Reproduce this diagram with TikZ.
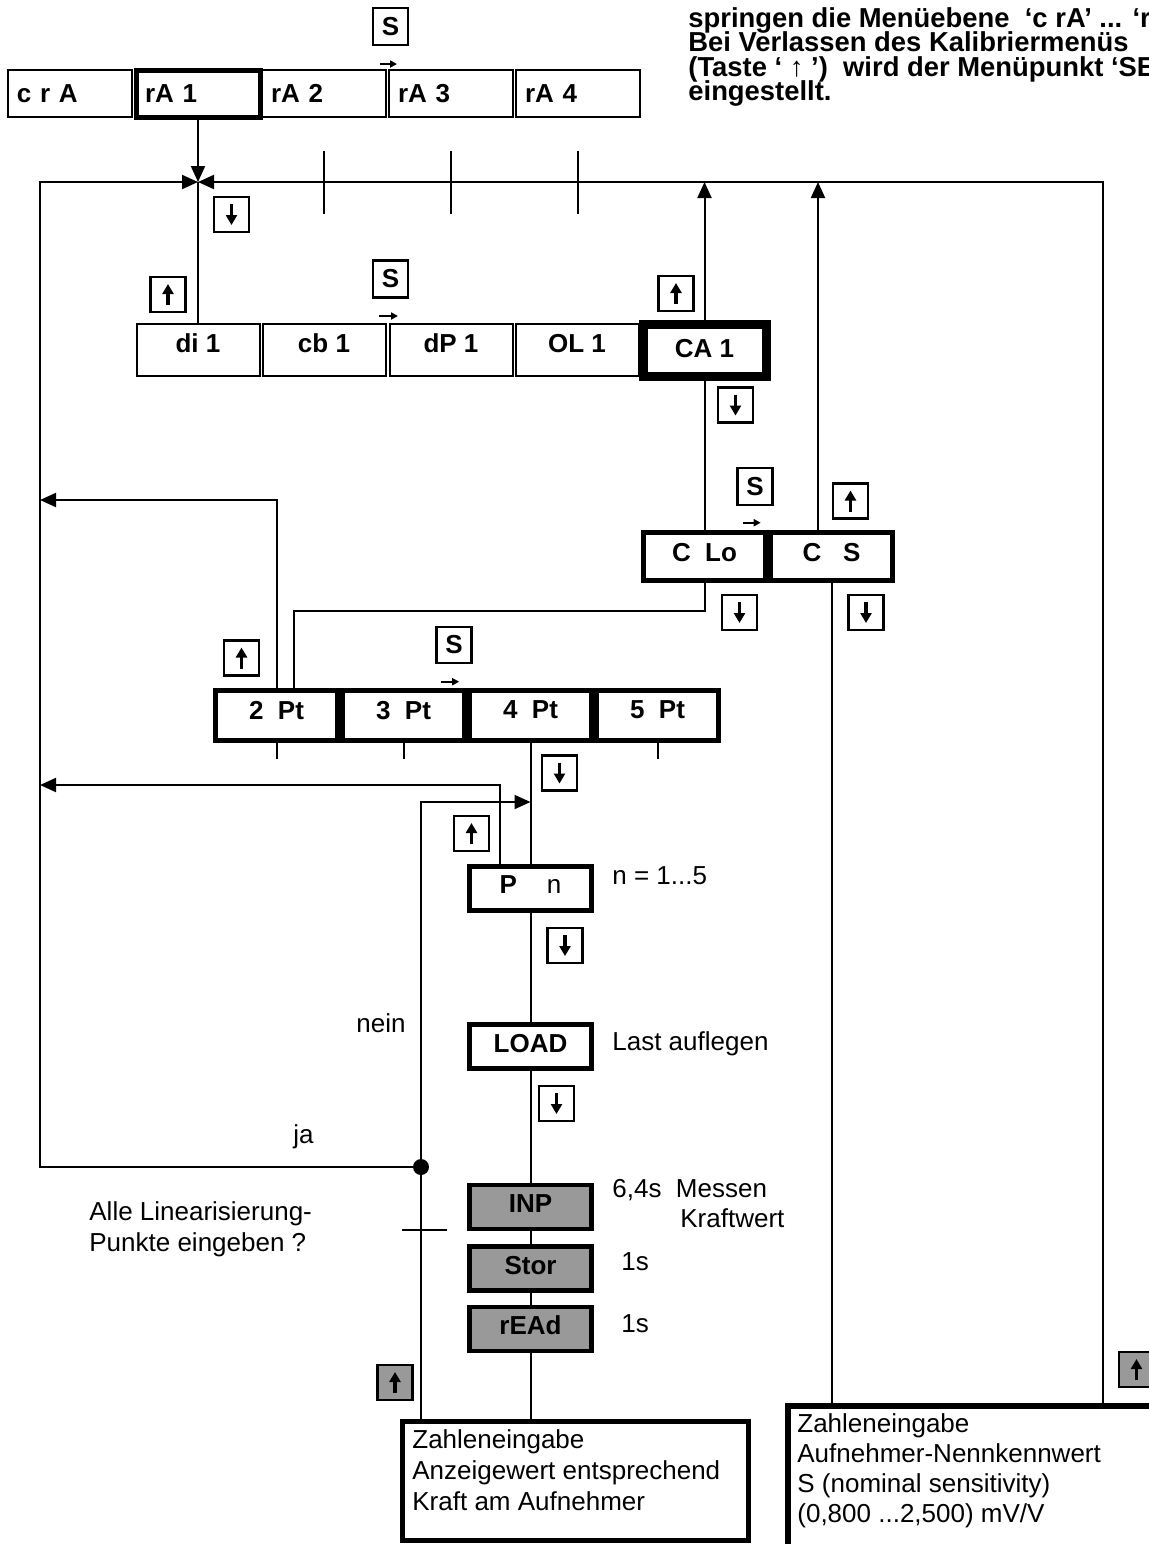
\documentclass[tikz,border=0pt]{standalone}
\usepackage{fontspec}
\setmainfont{Liberation Sans}
\usepackage{tikz}
\usetikzlibrary{arrows.meta,positioning}
\newcommand{\labfont}{\fontsize{13}{15}\selectfont\bfseries}
\newcommand{\txtfont}{\fontsize{13}{15}\selectfont}
\newcommand{\hdrfont}{\fontsize{13.7}{12.2}\selectfont\bfseries}
\tikzset{
  menu/.style={draw,line width=1pt,minimum width=62pt,minimum height=23.5pt,inner sep=0pt,font=\labfont},
  menutop/.style={menu,text width=53pt,align=left},
  menusel/.style={menutop,line width=2.5pt},
  menurow/.style={menu,minimum width=61.5pt,minimum height=26pt,text depth=7pt},
  menucal/.style={menurow,line width=4.5pt,text depth=2pt},
  stepbox/.style={draw,line width=2.3pt,minimum width=61pt,minimum height=24pt,inner sep=0pt,font=\labfont,text depth=4.5pt},
  ptbox/.style={stepbox,minimum height=25pt,text depth=5.5pt},
  colbox/.style={stepbox,minimum height=22pt,text depth=3.5pt},
  runbox/.style={colbox,fill=black!40},
  infobox/.style={draw,line width=2.5pt},
  keybox/.style={draw,line width=1.2pt,fill=white,minimum size=17.5pt,inner sep=0pt,font=\labfont},
  keyup/.style={keybox,path picture={\draw[keyarrow] ([yshift=3.5pt]path picture bounding box.south) -- ([yshift=-3.5pt]path picture bounding box.north);}},
  keydown/.style={keybox,path picture={\draw[keyarrow] ([yshift=-3.5pt]path picture bounding box.north) -- ([yshift=3.5pt]path picture bounding box.south);}},
  keygrey/.style={fill=black!40},
  keyarrow/.style={line width=1.6pt,-{Triangle[length=5pt,width=5.5pt]}},
  flow/.style={line width=1pt},
  flowarr/.style={flow,-{Triangle[length=8pt,width=7pt]}},
  nextarr/.style={line width=0.9pt,-{Triangle[length=3.5pt,width=3.5pt]}},
  txt/.style={font=\txtfont,anchor=base west,inner sep=0pt},
  hdr/.style={font=\hdrfont,anchor=base west,inner sep=0pt,text height=9.7pt,text depth=2.2pt},
  joint/.style={circle,fill=black,inner sep=0pt,minimum size=8pt},
}

\begin{document}
\begin{tikzpicture}[x=0.5pt,y=-0.5pt]
  \useasboundingbox (0,0) rectangle (1149,1544);
  \clip (0,0) rectangle (1149,1544);

  % calibration level
  \node[menutop] (crA) at (70,93.5) {c r A};
  \node[menusel] (rA1) at (198,93.5) {rA 1};
  \node[menutop] (rA2) at (324,93.5) {rA 2};
  \node[menutop] (rA3) at (451,93.5) {rA 3};
  \node[menutop] (rA4) at (578,93.5) {rA 4};
  \node[keybox,minimum height=18.5pt] (sA) at (390.5,26.5) {S};
  \draw[nextarr] ([xshift=-4pt,yshift=2.5pt]rA3.north west) -- ++(17,0);

  \node[hdr] (note1) at (688,27) {springen die Menüebene\ \ ‘c rA’ ... ‘rA};
  \node[hdr] (note2) at ([yshift=-12.25pt]note1.base west) {Bei Verlassen des Kalibriermenüs};
  \node[hdr] (note3) at ([yshift=-12.25pt]note2.base west) {(Taste ‘ ↑ ’)\ \ wird der Menüpunkt ‘SE};
  \node[hdr] (note4) at ([yshift=-12.25pt]note3.base west) {eingestellt.};

  \coordinate (jn) at (198,182);
  \coordinate (railT) at (40,182);
  \coordinate (railR) at (1103,182);
  \coordinate (railM) at (40,500);
  \coordinate (railL) at (40,785);
  \coordinate (h4) at (530.5,802);

  % parameters of rA 1
  \node[menurow] (di1) at (198,350) {di 1};
  \node[menurow] (cb1) at (324,350) {cb 1};
  \node[menurow] (dP1) at (451,350) {dP 1};
  \node[menurow] (OL1) at (577,350) {OL 1};
  \node[menucal] (CA1) at (704.5,350) {CA 1};
  \node[keybox,minimum height=18.5pt] (sB) at (390.5,279) {S};
  \node[keyup] (uB) at (168,294.5) {};
  \node[keyup] (uC) at (676,293.5) {};
  \node[keydown] (dA) at (231.5,214.5) {};
  \node[keydown] (dC) at (735.5,405) {};
  \draw[nextarr] ([xshift=-4.75pt,yshift=3.5pt]dP1.north west) -- ++(19,0);

  % calibration mode
  \node[stepbox] (CLo) at (704.5,556.5) {C\ \ Lo};
  \node[stepbox] (CS) at (831.5,556.5) {C\ \ \ S};
  \node[keybox,minimum height=18.5pt] (sC) at (755,486.5) {S};
  \node[keyup] (uD) at (850.5,501) {};
  \node[keydown] (dD) at (739.5,612.5) {};
  \node[keydown] (dE) at (866,612.5) {};
  \draw[nextarr] ([xshift=-12.75pt,yshift=3.75pt]CS.north west) -- ++(18,0);

  % number of points
  \node[ptbox] (p2) at (276.5,715.5) {2\ \ Pt};
  \node[ptbox] (p3) at (403.5,715.5) {3\ \ Pt};
  \node[ptbox] (p4) at (530.5,715.5) {4\ \ Pt};
  \node[ptbox] (p5) at (657.5,715.5) {5\ \ Pt};
  \node[keybox,minimum height=18pt] (sD) at (454,645) {S};
  \node[keyup] (uE) at (241.5,658) {};
  \node[keydown] (dF) at (559.5,773) {};
  \draw[nextarr] ([xshift=-13pt,yshift=3.25pt]p4.north west) -- ++(18,0);

  % point loop
  \node[colbox] (Pn) at (530.5,888.5) {P\hspace{15pt}{\mdseries n}};
  \node[colbox] (LOAD) at (530.5,1046.5) {LOAD};
  \node[runbox] (INP) at (530.5,1207) {INP};
  \node[runbox] (Stor) at (530.5,1268.5) {Stor};
  \node[runbox] (rEAd) at (530.5,1329) {rEAd};
  \node[keyup] (uF) at (471.5,833.5) {};
  \node[keydown] (dG) at (565,945.5) {};
  \node[keydown] (dH) at (556.5,1103.5) {};
  \node[keyup,keygrey] (uG) at (395,1382.5) {};
  \node[keyup,keygrey] (uH) at (1136.5,1369.5) {};
  \node[joint] (jd) at (421,1167) {};

  \node[txt] (nrange) at (612,884) {n = 1...5};
  \node[txt] (nein) at (356,1032) {nein};
  \node[txt] (last) at (612,1050) {Last auflegen};
  \node[txt] (ja) at (293,1143) {ja};
  \node[txt] (tInp) at (612,1197) {6,4s\ \ Messen};
  \node[txt] (kraft) at (680,1227) {Kraftwert};
  \node[txt] (tStor) at (621,1270) {1s};
  \node[txt] (tRead) at (621,1332) {1s};
  \node[txt] (ask1) at (89,1220) {Alle Linearisierung-};
  \node[txt] (ask2) at ([yshift=-15.5pt]ask1.base west) {Punkte eingeben ?};

  % number entry
  \node[infobox,minimum width=173pt,minimum height=59.5pt] (infoL) at (575.5,1481) {};
  \node[txt] (zl1) at (412,1448) {Zahleneingabe};
  \node[txt] (zl2) at ([yshift=-15.5pt]zl1.base west) {Anzeigewert entsprechend};
  \node[txt] (zl3) at ([yshift=-15.5pt]zl2.base west) {Kraft am Aufnehmer};
  \node[infobox,line width=3pt,minimum width=200pt,minimum height=90pt] (infoR) at (988,1496) {};
  \node[txt] (zr1) at (797,1432) {Zahleneingabe};
  \node[txt] (zr2) at ([yshift=-15pt]zr1.base west) {Aufnehmer-Nennkennwert};
  \node[txt] (zr3) at ([yshift=-15pt]zr2.base west) {S (nominal sensitivity)};
  \node[txt] (zr4) at ([yshift=-15pt]zr3.base west) {(0,800 ...2,500) mV/V};

  % connectors
  \draw[flowarr] (rA1) -- (jn);
  \draw[flowarr] (jd.center) -| (railT) -- (jn);
  \draw[flowarr] (infoR.north -| railR) -- (railR) -- (jn);
  \foreach \n in {rA2,rA3,rA4}
    \draw[flow] ([yshift=-16.5pt]\n.south) -- ++(0,63);
  \draw[flow] (di1) -- (jn);
  \draw[flowarr] (CA1) -- (CA1 |- railR);
  \coordinate (csup) at ([xshift=-6.75pt]CS.north);
  \draw[flowarr] (csup) -- (csup |- railR);
  \draw[flow] (CA1) -- (CLo);
  \coordinate (lo) at (294,611);
  \draw[flow] (CLo) |- (lo) -- (lo |- p2.north);
  \draw[flowarr] (p2) |- (railM);
  \foreach \n in {p2,p3,p5}
    \draw[flow] (\n.south) -- ++(0,16);
  \draw[flow] (p4) -- (Pn);
  \coordinate (pnl) at ([xshift=-15.25pt]Pn.north);
  \draw[flowarr] (pnl) |- (railL);
  \draw[flowarr] (jd.center |- infoL.north) -- (jd.center) |- (h4);
  \draw[flow] ([xshift=-9.5pt,yshift=-31.5pt]jd.center) -- ++(45,0);
  \draw[flow] (Pn) -- (LOAD);
  \draw[flow] (LOAD) -- (INP);
  \draw[flow] (INP) -- (Stor);
  \draw[flow] (Stor) -- (rEAd);
  \draw[flow] (rEAd) -- (rEAd |- infoL.north);
  \draw[flow] (CS) -- (CS |- infoR.north);
\end{tikzpicture}
\end{document}
